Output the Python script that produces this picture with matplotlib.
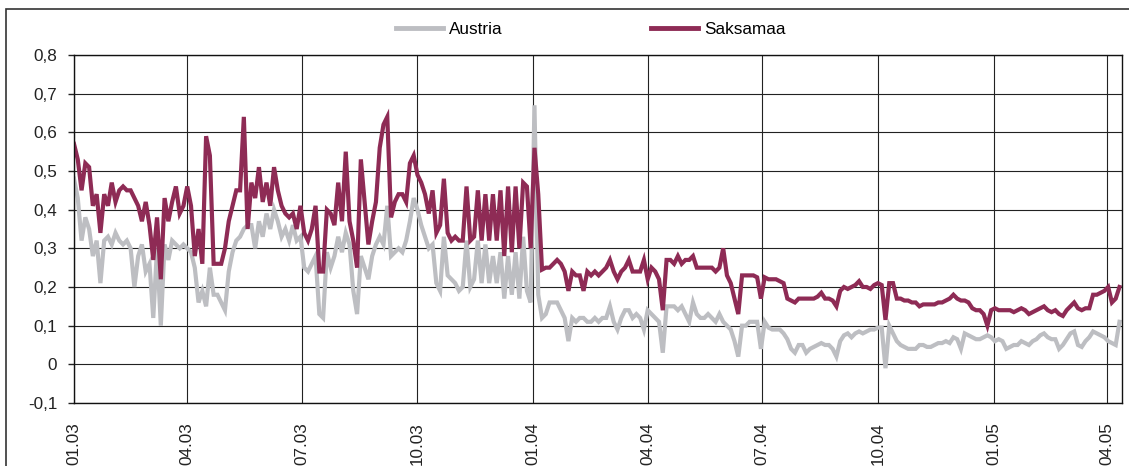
import pandas as pd
import numpy as np
import matplotlib
matplotlib.use('Agg')
import matplotlib.pyplot as plt
import matplotlib.dates as mdates
from matplotlib.patches import Rectangle
from matplotlib.lines import Line2D

plt.rcParams['font.family'] = ['Liberation Sans', 'DejaVu Sans']

# values, one point every 3 days from 01.01.2003
saksamaa = [
    0.57, 0.53, 0.45, 0.52, 0.51, 0.41, 0.44, 0.34, 0.44, 0.41, 0.47, 0.42, 0.45, 0.46, 0.45, 0.45,
    0.43, 0.41, 0.37, 0.42, 0.36, 0.27, 0.38, 0.22, 0.43, 0.37, 0.42, 0.46, 0.39, 0.41, 0.46,
    0.41, 0.28, 0.35, 0.26, 0.59, 0.54, 0.26, 0.26, 0.26, 0.30, 0.37, 0.41, 0.45, 0.45, 0.64, 0.35,
    0.47, 0.43, 0.51, 0.42, 0.47, 0.41, 0.51, 0.45, 0.41, 0.39, 0.38, 0.39, 0.35, 0.41, 0.34, 0.32,
    0.35, 0.41, 0.24, 0.24, 0.40, 0.39, 0.36, 0.47, 0.37, 0.55, 0.37, 0.32, 0.25, 0.53, 0.42, 0.31,
    0.37, 0.42, 0.56, 0.62, 0.64, 0.38, 0.42, 0.44, 0.44, 0.42, 0.52, 0.54, 0.49, 0.47,
    0.44, 0.39, 0.45, 0.34, 0.36, 0.48, 0.34, 0.32, 0.33, 0.32, 0.32, 0.46, 0.32, 0.33, 0.45, 0.32,
    0.44, 0.32, 0.44, 0.32, 0.45, 0.28, 0.46, 0.29, 0.46, 0.30, 0.47, 0.46, 0.30, 0.56,
    0.44, 0.245, 0.25, 0.25, 0.26, 0.27, 0.26, 0.24, 0.19, 0.24, 0.23, 0.23, 0.19, 0.24, 0.23, 0.24,
    0.23, 0.24, 0.25, 0.27, 0.24, 0.22, 0.24, 0.25, 0.27, 0.24, 0.24, 0.24, 0.27, 0.22, 0.25, 0.24,
    0.22, 0.14, 0.27, 0.27, 0.26, 0.28, 0.26, 0.27, 0.27, 0.28, 0.25, 0.25, 0.25, 0.25, 0.25, 0.24,
    0.25, 0.30, 0.23, 0.21, 0.17, 0.13,
    0.23, 0.23, 0.23, 0.23, 0.225, 0.17, 0.225, 0.22, 0.22, 0.22,
    0.215, 0.21, 0.17, 0.165, 0.16, 0.17, 0.17, 0.17, 0.17, 0.17,
    0.175, 0.185, 0.17, 0.17, 0.165, 0.15, 0.19, 0.20, 0.195, 0.20,
    0.205, 0.215, 0.20, 0.20, 0.195, 0.205, 0.21, 0.205, 0.115, 0.21,
    0.21, 0.17, 0.17, 0.165, 0.165, 0.16, 0.16, 0.15, 0.155, 0.155,
    0.155, 0.155, 0.16, 0.16, 0.165, 0.17, 0.18, 0.17, 0.165, 0.165,
    0.16, 0.145, 0.14, 0.14, 0.13, 0.10, 0.14, 0.145, 0.14, 0.14,
    0.14, 0.14, 0.135, 0.14, 0.145, 0.14, 0.13, 0.135, 0.14, 0.145,
    0.15, 0.14, 0.135, 0.14, 0.13, 0.125, 0.14, 0.15, 0.16, 0.145,
    0.14, 0.145, 0.145, 0.18, 0.18, 0.185, 0.19, 0.20, 0.16, 0.17,
    0.20,
]

austria = [
    0.48, 0.43, 0.32, 0.38, 0.35, 0.28, 0.32, 0.21, 0.32, 0.33, 0.31, 0.34, 0.32, 0.31, 0.32, 0.30,
    0.20, 0.28, 0.31, 0.24, 0.26, 0.12, 0.30, 0.10, 0.31, 0.27, 0.32, 0.31, 0.30, 0.31, 0.30,
    0.29, 0.25, 0.16, 0.19, 0.15, 0.25, 0.18, 0.18, 0.16, 0.14, 0.24, 0.29, 0.32, 0.33, 0.35, 0.36,
    0.36, 0.30, 0.37, 0.33, 0.39, 0.35, 0.40, 0.37, 0.33, 0.35, 0.32, 0.36, 0.32, 0.33, 0.25, 0.24,
    0.26, 0.28, 0.13, 0.12, 0.29, 0.25, 0.28, 0.33, 0.29, 0.34, 0.31, 0.19, 0.13, 0.28, 0.25, 0.22,
    0.28, 0.31, 0.33, 0.31, 0.41, 0.28, 0.29, 0.30, 0.29, 0.32, 0.37, 0.43, 0.40, 0.36,
    0.33, 0.30, 0.31, 0.21, 0.19, 0.33, 0.23, 0.22, 0.21, 0.19, 0.20, 0.32, 0.20, 0.22, 0.32, 0.21,
    0.31, 0.21, 0.28, 0.21, 0.29, 0.17, 0.28, 0.18, 0.29, 0.17, 0.33, 0.19, 0.16, 0.67,
    0.18, 0.12, 0.13, 0.16, 0.16, 0.16, 0.14, 0.12, 0.06, 0.12, 0.11, 0.12, 0.12, 0.11, 0.11, 0.12,
    0.11, 0.12, 0.12, 0.15, 0.11, 0.09, 0.12, 0.14, 0.14, 0.12, 0.13, 0.12, 0.09, 0.14, 0.13, 0.12,
    0.11, 0.03, 0.15, 0.15, 0.15, 0.14, 0.15, 0.13, 0.11, 0.16, 0.13, 0.12, 0.12, 0.13, 0.12, 0.11,
    0.13, 0.11, 0.10, 0.09, 0.06, 0.02,
    0.10, 0.10, 0.11, 0.11, 0.11, 0.04, 0.11, 0.095, 0.09, 0.09,
    0.09, 0.08, 0.065, 0.04, 0.03, 0.05, 0.05, 0.03, 0.04, 0.045,
    0.05, 0.055, 0.05, 0.05, 0.04, 0.02, 0.06, 0.075, 0.08, 0.07,
    0.08, 0.085, 0.08, 0.085, 0.09, 0.09, 0.095, 0.095, -0.01, 0.10,
    0.08, 0.06, 0.05, 0.045, 0.04, 0.04, 0.04, 0.05, 0.05, 0.045,
    0.045, 0.05, 0.055, 0.055, 0.06, 0.055, 0.07, 0.065, 0.04, 0.08,
    0.075, 0.07, 0.065, 0.065, 0.07, 0.075, 0.07, 0.06, 0.065, 0.06,
    0.04, 0.045, 0.05, 0.05, 0.06, 0.055, 0.05, 0.06, 0.065, 0.075,
    0.08, 0.07, 0.065, 0.065, 0.04, 0.05, 0.065, 0.08, 0.085, 0.05,
    0.045, 0.06, 0.07, 0.085, 0.08, 0.075, 0.07, 0.06, 0.055, 0.05,
    0.11,
]

dates = pd.date_range('2003-01-01', periods=len(saksamaa), freq='3D')
yticks = [-0.1, 0, 0.1, 0.2, 0.3, 0.4, 0.5, 0.6, 0.7, 0.8]
ylabels = ['-0,1', '0', '0,1', '0,2', '0,3', '0,4', '0,5', '0,6', '0,7', '0,8']

c_at = '#BDBEC2'
c_de = '#8E2B55'
fs = 12.3

W, H = 1129, 466
fig = plt.figure(figsize=(W / 100, H / 100), dpi=100)
ax = fig.add_axes([74 / W, 1 - 403 / H, (1122 - 74) / W, (403 - 55) / H])

ax.plot(dates, austria, color=c_at, lw=3.0, solid_joinstyle='miter')
ax.plot(dates, saksamaa, color=c_de, lw=3.0, solid_joinstyle='miter')

ax.set_xlim(pd.Timestamp('2003-01-01'), pd.Timestamp('2005-04-13'))
ax.set_ylim(-0.1, 0.8)
ax.set_yticks(yticks)
ax.set_yticklabels(ylabels, fontsize=fs)
ax.xaxis.set_major_locator(mdates.MonthLocator(bymonth=[1, 4, 7, 10]))
ax.xaxis.set_major_formatter(mdates.DateFormatter('%m.%y'))
plt.setp(ax.get_xticklabels(), rotation=90, fontsize=fs, va='top', ha='center')
ax.tick_params(axis='x', length=0, pad=14, colors='#222222')
ax.tick_params(axis='y', length=4, width=1, pad=8, colors='#222222', direction='out')
ax.grid(True, color='#222222', lw=0.8)
ax.set_axisbelow(True)
for s in ax.spines.values():
    s.set_color('#111111')
    s.set_linewidth(1.0)

# outer chart frame
fig.patches.append(Rectangle((6 / W, -0.1), 1.2, 1.1 - 9 / H, transform=fig.transFigure,
                             fill=False, ec='#333333', lw=1.2))

handles = [Line2D([], [], color=c_at, lw=3.5), Line2D([], [], color=c_de, lw=3.5)]
fig.legend(handles, ['Austria', 'Saksamaa'], ncol=2, loc='center',
           bbox_to_anchor=(591 / W, 1 - 29 / H), frameon=False, fontsize=fs,
           handlelength=2.75, handletextpad=0.35, columnspacing=8.7)

fig.savefig('out.png', dpi=100)
